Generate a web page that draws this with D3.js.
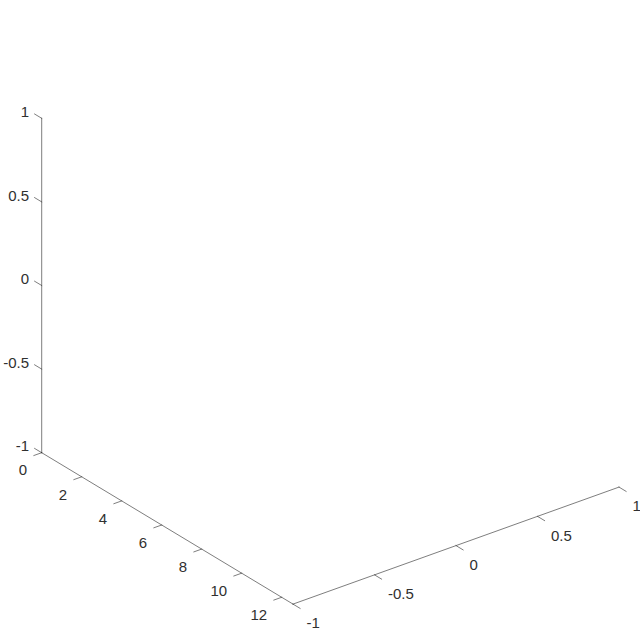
<!DOCTYPE html>
<html>
<head>
<meta charset="utf-8">
<script src="https://cdn.jsdelivr.net/npm/d3@7"></script>
<style>
  html, body { margin: 0; padding: 0; background: #fff; }
  svg { display: block; }
  text { font-family: "Liberation Sans", Arial, Helvetica, sans-serif; font-size: 15px; fill: #303030; }
</style>
</head>
<body>
<svg id="chart" width="640" height="635"></svg>
<script>
// Axis limits and tick labels (empty 3-D axes)
const xLimits = [0, 4 * Math.PI];
const yLimits = [-1, 1];
const zLimits = [-1, 1];
const xTickValues = [0, 2, 4, 6, 8, 10, 12];
const yTickValues = [-1, -0.5, 0, 0.5, 1];
const zTickValues = [-1, -0.5, 0, 0.5, 1];

const svg = d3.select("#chart");

// Projection of the 3-D box onto the screen (orthographic)
const origin = [41.7, 452.7];           // (x=0, y=-1, z=-1)
const xVec = [251.3, 151.4];             // full x range
const yVec = [326.0, -117.0];            // full y range
const zVec = [0, -334.4];                // full z range

const xs = d3.scaleLinear().domain(xLimits).range([0, 1]);
const ys = d3.scaleLinear().domain(yLimits).range([0, 1]);
const zs = d3.scaleLinear().domain(zLimits).range([0, 1]);

function proj(x, y, z) {
  const a = xs(x), b = ys(y), c = zs(z);
  return [
    origin[0] + a * xVec[0] + b * yVec[0] + c * zVec[0],
    origin[1] + a * xVec[1] + b * yVec[1] + c * zVec[1]
  ];
}
function unit(v) { const l = Math.hypot(v[0], v[1]); return [v[0] / l, v[1] / l]; }
const fmt = v => String(v);  // plain hyphen-minus, as in the reference

const axisColor = "#262626";
const lineW = 0.6;
const tickLen = 8.3;
const g = svg.append("g");

function line(p, q) {
  g.append("line")
    .attr("x1", p[0]).attr("y1", p[1]).attr("x2", q[0]).attr("y2", q[1])
    .attr("stroke", axisColor).attr("stroke-width", lineW)
    .attr("stroke-linecap", "square");
}

// X axis (y=-1, z=-1)
line(proj(xLimits[0], -1, -1), proj(xLimits[1], -1, -1));
const xTickDir = unit(yVec).map(d => -d * tickLen);
xTickValues.forEach(v => {
  const p = proj(v, -1, -1);
  line(p, [p[0] + xTickDir[0], p[1] + xTickDir[1]]);
  g.append("text")
    .attr("x", p[0] - 14.5).attr("y", p[1] + 17.5)
    .attr("dy", "0.35em").attr("text-anchor", "end")
    .text(fmt(v));
});

// Y axis (x=max, z=-1)
line(proj(xLimits[1], yLimits[0], -1), proj(xLimits[1], yLimits[1], -1));
const yTickDir = unit(xVec).map(d => d * tickLen);
yTickValues.forEach(v => {
  const p = proj(xLimits[1], v, -1);
  line(p, [p[0] + yTickDir[0], p[1] + yTickDir[1]]);
  g.append("text")
    .attr("x", p[0] + 13.5).attr("y", p[1] + 19)
    .attr("dy", "0.35em").attr("text-anchor", "start")
    .text(fmt(v));
});

// Z axis (x=0, y=-1)
line(proj(0, -1, zLimits[0]), proj(0, -1, zLimits[1]));
const zTickDir = unit(xVec).map(d => -d * tickLen);
zTickValues.forEach(v => {
  const p = proj(0, -1, v);
  line(p, [p[0] + zTickDir[0], p[1] + zTickDir[1]]);
  g.append("text")
    .attr("x", p[0] - 12.7).attr("y", p[1] - 6.5)
    .attr("dy", "0.35em").attr("text-anchor", "end")
    .text(fmt(v));
});
</script>
</body>
</html>
